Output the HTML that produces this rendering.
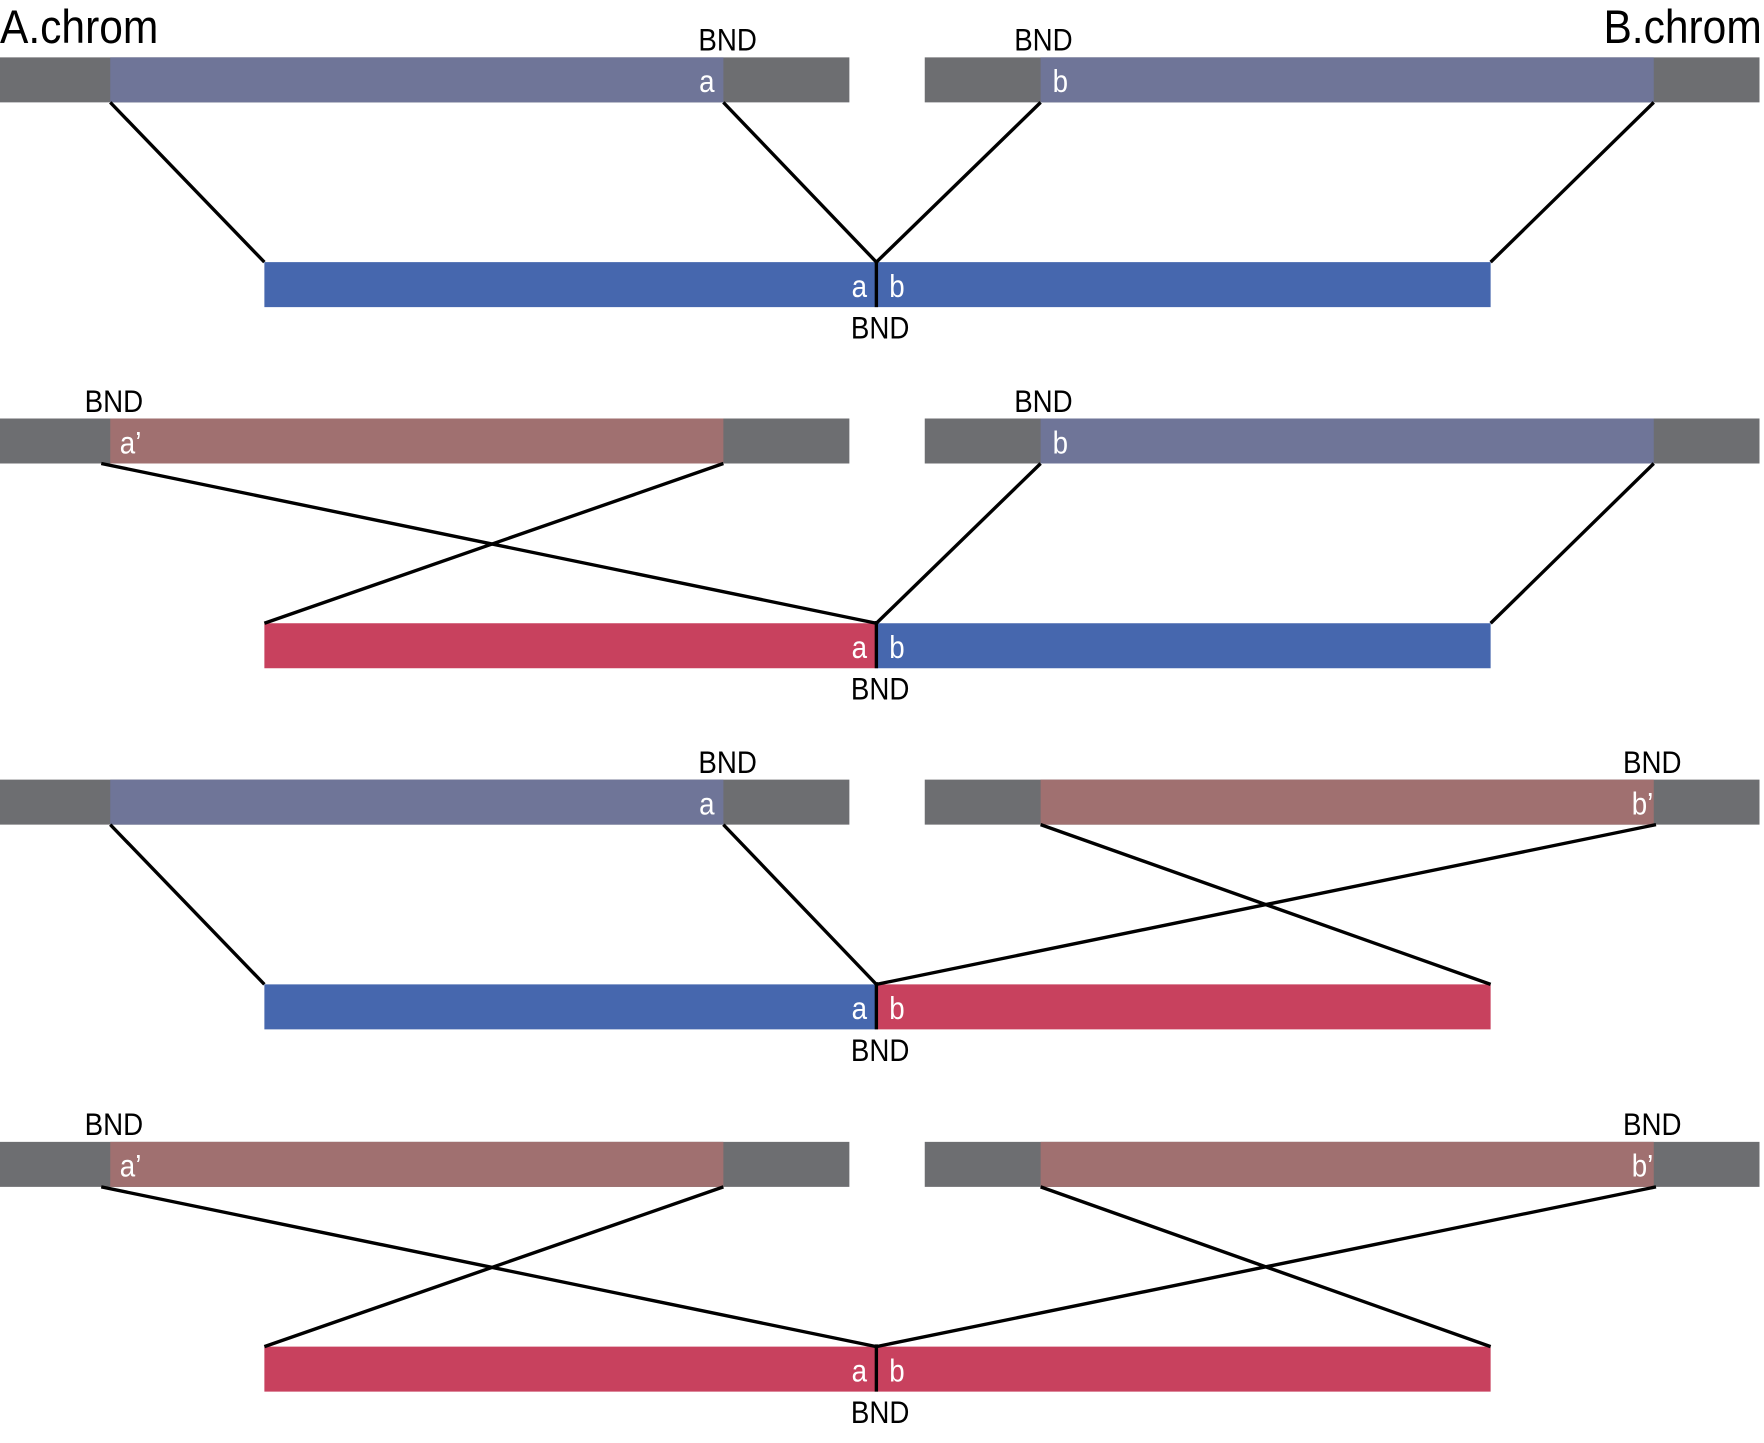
<!DOCTYPE html>
<html><head><meta charset="utf-8"><style>
html,body{margin:0;padding:0;background:#fff;}
svg{display:block;}
text{font-family:"Liberation Sans",sans-serif;}
</style></head><body>
<svg width="1764" height="1443" viewBox="0 0 1568 1282.67" xmlns="http://www.w3.org/2000/svg">
<defs>
<g id="base">
  <rect x="0" y="0" width="755" height="40" fill="#6d6e71"/>
  <rect x="822" y="0" width="742" height="40" fill="#6d6e71"/>
</g>
</defs>
<style>
.l{stroke:#000;stroke-width:3;fill:none}
.w{fill:#fff;font-size:28px}
.k{fill:#000;font-size:28px}
</style>
<text x="0" y="38" font-size="42" transform="scale(0.9,1)" fill="#000">A.chrom</text>
<text x="1566" y="38" font-size="42" text-anchor="end" fill="#000" transform="translate(156.6,0) scale(0.9,1)">B.chrom</text>

<!-- Row 1 -->
<g transform="translate(0,51)">
  <use href="#base"/>
  <rect x="98" y="0" width="545" height="40" fill="#6f7598"/>
  <rect x="925" y="0" width="545" height="40" fill="#6f7598"/>
  <rect x="235" y="182" width="1090" height="40" fill="#4667ae"/>
  <line class="l" x1="98" y1="40" x2="235" y2="182"/>
  <line class="l" x1="643" y1="40" x2="779" y2="182"/>
  <line class="l" x1="925" y1="40" x2="779" y2="182"/>
  <line class="l" x1="1470" y1="40" x2="1325" y2="182"/>
  <line class="l" x1="779" y1="180" x2="779" y2="222"/>
  <g transform="scale(0.88,1)">
  <text class="k" x="735" y="-6" text-anchor="middle">BND</text>
  <text class="k" x="1054" y="-6" text-anchor="middle">BND</text>
  <text class="w" x="714" y="31" text-anchor="middle">a</text>
  <text class="w" x="1071" y="31" text-anchor="middle">b</text>
  <text class="w" x="868" y="213" text-anchor="middle">a</text>
  <text class="w" x="906" y="213" text-anchor="middle">b</text>
  <text class="k" x="889" y="250" text-anchor="middle">BND</text>
  </g>
</g>

<!-- Row 2 -->
<g transform="translate(0,372)">
  <use href="#base"/>
  <rect x="98" y="0" width="545" height="40" fill="#a07070"/>
  <rect x="925" y="0" width="545" height="40" fill="#6f7598"/>
  <rect x="235" y="182" width="544" height="40" fill="#c8415e"/>
  <rect x="779" y="182" width="546" height="40" fill="#4667ae"/>
  <line class="l" x1="90" y1="40" x2="779" y2="182"/>
  <line class="l" x1="643" y1="40" x2="235" y2="182"/>
  <line class="l" x1="925" y1="40" x2="779" y2="182"/>
  <line class="l" x1="1470" y1="40" x2="1325" y2="182"/>
  <line class="l" x1="779" y1="180" x2="779" y2="222"/>
  <g transform="scale(0.88,1)">
  <text class="k" x="115" y="-6" text-anchor="middle">BND</text>
  <text class="k" x="1054" y="-6" text-anchor="middle">BND</text>
  <text class="w" x="121" y="31">a’</text>
  <text class="w" x="1071" y="31" text-anchor="middle">b</text>
  <text class="w" x="868" y="213" text-anchor="middle">a</text>
  <text class="w" x="906" y="213" text-anchor="middle">b</text>
  <text class="k" x="889" y="250" text-anchor="middle">BND</text>
  </g>
</g>

<!-- Row 3 -->
<g transform="translate(0,693)">
  <use href="#base"/>
  <rect x="98" y="0" width="545" height="40" fill="#6f7598"/>
  <rect x="925" y="0" width="545" height="40" fill="#a07070"/>
  <rect x="235" y="182" width="544" height="40" fill="#4667ae"/>
  <rect x="779" y="182" width="546" height="40" fill="#c8415e"/>
  <line class="l" x1="98" y1="40" x2="235" y2="182"/>
  <line class="l" x1="643" y1="40" x2="779" y2="182"/>
  <line class="l" x1="925" y1="40" x2="1325" y2="182"/>
  <line class="l" x1="1472" y1="40" x2="779" y2="182"/>
  <line class="l" x1="779" y1="180" x2="779" y2="222"/>
  <g transform="scale(0.88,1)">
  <text class="k" x="735" y="-6" text-anchor="middle">BND</text>
  <text class="k" x="1669" y="-6" text-anchor="middle">BND</text>
  <text class="w" x="714" y="31" text-anchor="middle">a</text>
  <text class="w" x="1670" y="31" text-anchor="end">b’</text>
  <text class="w" x="868" y="213" text-anchor="middle">a</text>
  <text class="w" x="906" y="213" text-anchor="middle">b</text>
  <text class="k" x="889" y="250" text-anchor="middle">BND</text>
  </g>
</g>

<!-- Row 4 -->
<g transform="translate(0,1015)">
  <use href="#base"/>
  <rect x="98" y="0" width="545" height="40" fill="#a07070"/>
  <rect x="925" y="0" width="545" height="40" fill="#a07070"/>
  <rect x="235" y="182" width="1090" height="40" fill="#c8415e"/>
  <line class="l" x1="90" y1="40" x2="779" y2="182"/>
  <line class="l" x1="643" y1="40" x2="235" y2="182"/>
  <line class="l" x1="925" y1="40" x2="1325" y2="182"/>
  <line class="l" x1="1472" y1="40" x2="779" y2="182"/>
  <line class="l" x1="779" y1="180" x2="779" y2="222"/>
  <g transform="scale(0.88,1)">
  <text class="k" x="115" y="-6" text-anchor="middle">BND</text>
  <text class="k" x="1669" y="-6" text-anchor="middle">BND</text>
  <text class="w" x="121" y="31">a’</text>
  <text class="w" x="1670" y="31" text-anchor="end">b’</text>
  <text class="w" x="868" y="213" text-anchor="middle">a</text>
  <text class="w" x="906" y="213" text-anchor="middle">b</text>
  <text class="k" x="889" y="250" text-anchor="middle">BND</text>
  </g>
</g>
</svg>
</body></html>
